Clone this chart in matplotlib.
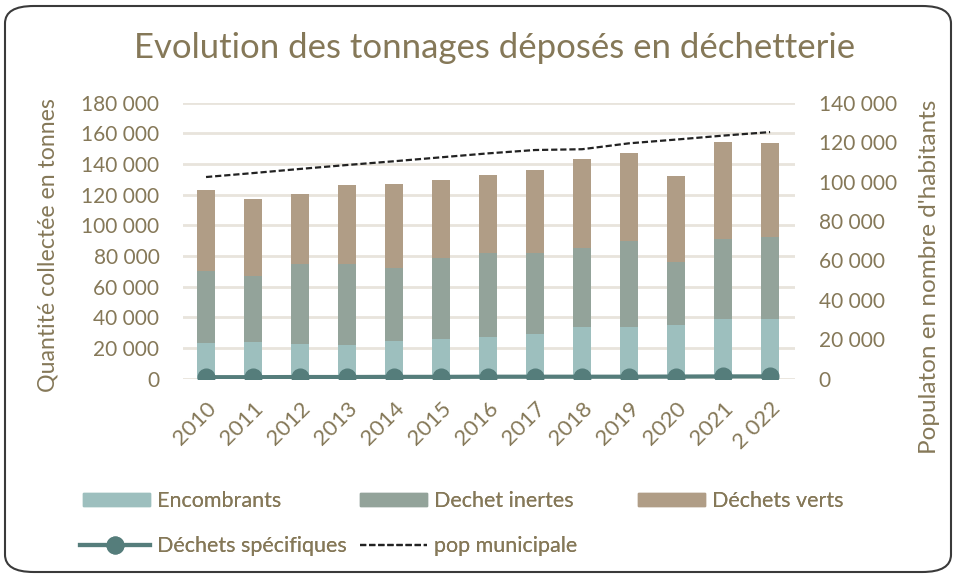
import matplotlib
matplotlib.use("Agg")
import matplotlib.pyplot as plt
from matplotlib.patches import FancyBboxPatch, Patch
from matplotlib.lines import Line2D
import numpy as np

years = ["2010", "2011", "2012", "2013", "2014", "2015", "2016", "2017",
         "2018", "2019", "2020", "2021", "2 022"]
encombrants = [23100, 23900, 22600, 22000, 24600, 25900, 27000, 29000,
               33700, 33700, 35000, 39100, 39100]
inertes_top = [70400, 67000, 74800, 75000, 72200, 78500, 82200, 82200,
               85000, 89800, 76300, 91300, 92600]
totals = [123300, 117200, 120700, 126500, 127000, 129800, 132800, 136100,
          143500, 147400, 132000, 154200, 153500]
inertes = [t - e for t, e in zip(inertes_top, encombrants)]
verts = [t - i for t, i in zip(totals, inertes_top)]
specifiques = [1000, 1000, 1100, 1100, 1200, 1200, 1300, 1300,
               1300, 1300, 1400, 1500, 1500]
pop = [102300, 104300, 106400, 108400, 110300, 112300, 114300, 116000,
       116400, 119400, 121300, 123300, 125100]

TXT = "#857858"
C_ENC = "#9dbfbe"
C_INE = "#93a39a"
C_VER = "#b09d86"
C_SPE = "#557d7b"
C_POP = "#222222"
FONT = "Lato"
W, H = 958, 577

plt.rcParams["font.family"] = [FONT, "DejaVu Sans"]

fig = plt.figure(figsize=(W / 100, H / 100), dpi=100)
fig.patch.set_facecolor("white")
border = FancyBboxPatch((5 / W, 5 / H), 946 / W, 566 / H,
                        boxstyle="round,pad=0,rounding_size=0.03",
                        transform=fig.transFigure, fill=False,
                        edgecolor="#3a3a3a", linewidth=1.5)
fig.patches.append(border)

ax = fig.add_axes([183 / W, 1 - 378.7 / H, 612 / W, 276 / H])
x = np.arange(len(years))
w = 0.4
ax.bar(x, encombrants, w, color=C_ENC, zorder=2)
ax.bar(x, inertes, w, bottom=encombrants, color=C_INE, zorder=2)
ax.bar(x, verts, w, bottom=inertes_top, color=C_VER, zorder=2)
ax.plot(x, specifiques, color=C_SPE, lw=3.0, marker="o", markersize=12, zorder=4)

ax.set_ylim(0, 180000)
ax.set_xlim(-0.49, 12.53)
ax.set_yticks(np.arange(0, 180001, 20000))
ax.set_yticklabels(["0" if v == 0 else f"{v // 1000} 000" for v in range(0, 180001, 20000)])
ax.yaxis.grid(True, color="#e8e4dc", lw=2, zorder=0)
ax.set_axisbelow(True)
for s in ax.spines.values():
    s.set_visible(False)
ax.tick_params(axis="y", length=0, labelsize=15, colors=TXT, pad=17)
ax.set_xticks(x)
ax.set_xticklabels(years, rotation=45, ha="right", rotation_mode="anchor")
ax.tick_params(axis="x", length=0, labelsize=16, colors=TXT, pad=14)

ax2 = ax.twinx()
ax2.plot(x, pop, color=C_POP, lw=1.6, ls=(0, (2.8, 1.3)), zorder=5)
ax2.set_ylim(0, 140000)
ax2.set_yticks(np.arange(0, 140001, 20000))
ax2.set_yticklabels(["0" if v == 0 else f"{v // 1000} 000" for v in range(0, 140001, 20000)])
ax2.tick_params(axis="y", length=0, labelsize=15, colors=TXT, pad=17)
for s in ax2.spines.values():
    s.set_visible(False)

fig.text(48 / W, 1 - 245 / H, "Quantité collectée en tonnes", rotation=90,
         ha="center", va="center", fontsize=16.7, color=TXT)
fig.text(930 / W, 1 - 277 / H, "Populaton en nombre d'habitants", rotation=90,
         ha="center", va="center", fontsize=17.5, color=TXT)

fig.text(495 / W, 1 - 48 / H, "Evolution des tonnages déposés en déchetterie",
         ha="center", va="center", fontsize=25, color=TXT)

LFS = 15.5
lpx = LFS * 100 / 72
entries = [
    (Patch(color=C_ENC), "Encombrants", 83, 501),
    (Patch(color=C_INE), "Dechet inertes", 360, 501),
    (Patch(color=C_VER), "Déchets verts", 638, 501),
    (Line2D([], [], color=C_SPE, lw=3.0, marker="o", markersize=12),
     "Déchets spécifiques", 80, 546),
    (Line2D([], [], color=C_POP, lw=1.6, ls=(0, (2.8, 1.3))),
     "pop municipale", 360, 546),
]
for h, lab, px, py in entries:
    hl = (70 if isinstance(h, Line2D) and lab.startswith("D") else 67) / lpx
    leg = fig.legend([h], [lab], loc="center left",
                     bbox_to_anchor=(px / W, 1 - py / H), frameon=False,
                     fontsize=LFS, labelcolor=TXT, handlelength=hl,
                     handleheight=0.6, handletextpad=7 / lpx,
                     borderpad=0, borderaxespad=0)
    fig.add_artist(leg)

fig.savefig("out.png", dpi=100, facecolor="white")
